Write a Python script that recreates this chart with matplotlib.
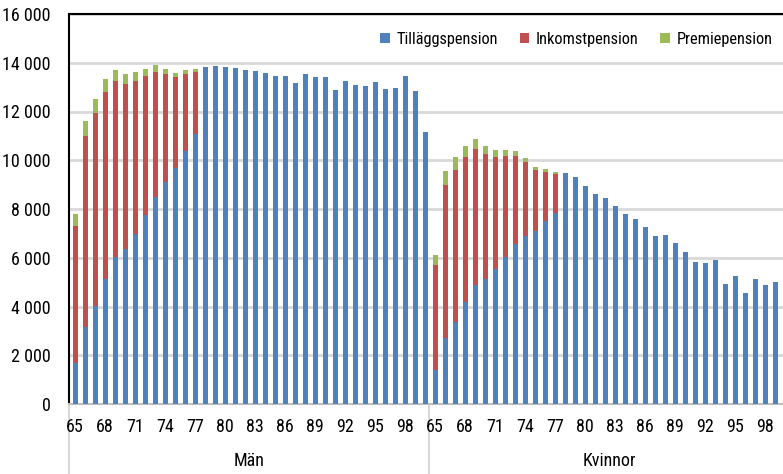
import numpy as np
import matplotlib.pyplot as plt
from matplotlib.lines import Line2D

plt.rcParams['font.family'] = ['Liberation Sans Narrow', 'Noto Sans Condensed', 'DejaVu Sans Condensed',
                               'Roboto Condensed', 'Open Sans Condensed', 'Noto Sans', 'DejaVu Sans']
plt.rcParams['font.stretch'] = 'condensed'

# Ages per group (men 65-100, women 65-99 visible)
men_ages = list(range(65, 101))
women_ages = list(range(65, 100))

# Men: Tilläggspension (blue), Inkomstpension (red), Premiepension (green)
men_tp = [1670, 3150, 4020, 5120, 6020, 6360, 6980, 7740, 8480, 9110, 9680, 10380, 11080,
          13840, 13880, 13840, 13790, 13700, 13660, 13580, 13470, 13470, 13180, 13550,
          13430, 13430, 12900, 13270, 13100, 13060, 13230, 12940, 12980, 13470, 12850, 11170]
men_ip = [5630, 7850, 7910, 7690, 7230, 6770, 6280, 5720, 5140, 4430, 3740, 3160, 2540]
men_pp = [490, 615, 590, 530, 450, 410, 370, 290, 290, 205, 165, 165, 125]

# Women
women_tp = [1410, 2720, 3380, 4200, 4880, 5130, 5540, 6030, 6580, 6910, 7100, 7510, 7840,
            9480, 9310, 8950, 8620, 8450, 8120, 7800, 7590, 7260, 6890, 6930, 6610,
            6240, 5830, 5790, 5910, 4920, 5250, 4550, 5130, 4880, 5010]
women_ip = [4290, 6260, 6220, 5940, 5580, 5130, 4600, 4150, 3600, 3020, 2500, 2010, 1600]
women_pp = [410, 575, 530, 450, 410, 330, 290, 250, 210, 165, 125, 125, 80]

series_names = ['Tilläggspension', 'Inkomstpension', 'Premiepension']
colors = ['#4F81BD', '#C0504D', '#9BBB59']

tp = np.array(men_tp + women_tp, dtype=float)
ip = np.zeros(len(tp))
pp = np.zeros(len(tp))
ip[:len(men_ip)] = men_ip
pp[:len(men_pp)] = men_pp
w0 = len(men_ages)
ip[w0:w0 + len(women_ip)] = women_ip
pp[w0:w0 + len(women_pp)] = women_pp
x = np.arange(len(tp))

W, H = 783, 474
fs = 13
fig = plt.figure(figsize=(W / 100, H / 100), dpi=100)
ax = fig.add_axes([69 / W, 1 - 404 / H, 714 / W, 390 / H])

bw = 0.5
ax.bar(x, tp, bw, color=colors[0], label=series_names[0], zorder=3)
ax.bar(x, ip, bw, bottom=tp, color=colors[1], label=series_names[1], zorder=3)
ax.bar(x, pp, bw, bottom=tp + ip, color=colors[2], label=series_names[2], zorder=3)

ax.set_xlim(-0.6, 70.8)
ax.set_ylim(0, 16000)
yt = np.arange(0, 16001, 2000)
ax.set_yticks(yt)
ax.set_yticklabels([f'{v:,}'.replace(',', ' ') for v in yt], fontsize=fs)
ax.yaxis.grid(True, color='#d9d9d9', linewidth=2, zorder=0)
ax.set_axisbelow(True)

# x ticks: every third age within each group
xt, xl = [], []
for i, a in enumerate(men_ages):
    if (a - 65) % 3 == 0:
        xt.append(i)
        xl.append(str(a))
for i, a in enumerate(women_ages):
    if (a - 65) % 3 == 0:
        xt.append(w0 + i)
        xl.append(str(a))
ax.set_xticks(xt)
ax.set_xticklabels(xl, fontsize=fs)
ax.tick_params(axis='both', length=0)
ax.tick_params(axis='y', pad=13)
ax.tick_params(axis='x', pad=10)

ax.spines['right'].set_visible(False)
ax.spines['top'].set_color('black')
ax.spines['top'].set_linewidth(1.5)
ax.spines['left'].set_color('black')
ax.spines['left'].set_linewidth(1.5)
ax.spines['bottom'].set_color('#bfbfbf')
ax.spines['bottom'].set_linewidth(1.5)

# group labels and separators below axis
fig.text(249 / W, 1 - 461 / H, 'Män', ha='center', va='center', fontsize=fs)
fig.text(609 / W, 1 - 461 / H, 'Kvinnor', ha='center', va='center', fontsize=fs)
for px in (69, 429):
    fig.add_artist(Line2D([px / W, px / W], [0, 1 - 404 / H], color='#d9d9d9',
                          linewidth=1.5, zorder=-1))

ax.legend(loc='upper right', bbox_to_anchor=(779 / W, 1 - 25 / H), bbox_transform=fig.transFigure,
          ncol=3, frameon=False, fontsize=11.8, handlelength=0.6, handleheight=0.6,
          handletextpad=0.4, columnspacing=1.3, borderaxespad=0)

fig.savefig('out.png', dpi=100)
